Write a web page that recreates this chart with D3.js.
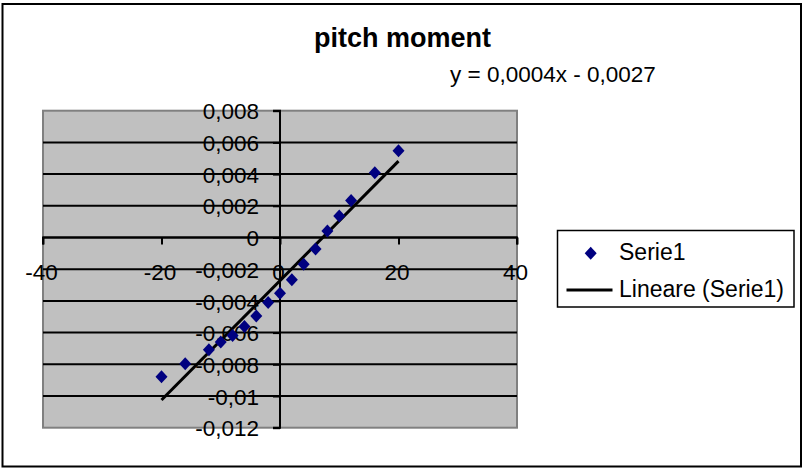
<!DOCTYPE html>
<html>
<head>
<meta charset="utf-8">
<script src="https://cdn.jsdelivr.net/npm/d3@7"></script>
<style>
  html, body { margin: 0; padding: 0; background: #fff; }
  svg { display: block; }
  text { font-family: "Liberation Sans", Arial, sans-serif; fill: #000; }
</style>
</head>
<body>
<svg id="chart" width="802" height="468"></svg>
<script>
// Angle of attack (deg) and pitching moment coefficient
const xValues = [-20, -16, -12, -10, -8, -6, -4, -2, 0, 2, 4, 6, 8, 10, 12, 16, 20];
const yValues = [-0.00879, -0.00796, -0.00708, -0.00660, -0.00619, -0.00561, -0.00495, -0.00410,
                 -0.00351, -0.00267, -0.00168, -0.00072, 0.00041, 0.00135, 0.00234, 0.00408, 0.00547];
const xTicks = [-40, -20, 0, 20, 40];
const yTicks = [0.008, 0.006, 0.004, 0.002, 0, -0.002, -0.004, -0.006, -0.008, -0.01, -0.012];
const seriesName = "Serie1";
const trendName = "Lineare (Serie1)";
const chartTitle = "pitch moment";

const svg = d3.select("#chart");
const W = 802, H = 468;

// Italian number formatting: comma decimal separator, plain hyphen minus
const it = d3.formatLocale({ decimal: ",", thousands: ".", grouping: [3], currency: ["€", ""], minus: "-" });
const fmtY = it.format(".3~f");
const fmtX = it.format("d");
const fmtCoef = it.format(".4f");

// Outer chart frame
svg.append("rect")
  .attr("x", 2.5).attr("y", 4).attr("width", W - 3.5).attr("height", H - 5.5)
  .attr("fill", "#fff").attr("stroke", "#000").attr("stroke-width", 2);

// Plot area
const plot = { left: 43, right: 517, top: 110.7, bottom: 427.7 };
const x = d3.scaleLinear().domain([-40, 40]).range([plot.left, plot.right]);
const y = d3.scaleLinear().domain([-0.012, 0.008]).range([plot.bottom, plot.top]);

svg.append("rect")
  .attr("x", plot.left).attr("y", plot.top)
  .attr("width", plot.right - plot.left).attr("height", plot.bottom - plot.top)
  .attr("fill", "#c0c0c0").attr("stroke", "#808080").attr("stroke-width", 2);

// Horizontal major gridlines
svg.append("g").selectAll("line")
  .data(yTicks.filter(v => v < 0.0079 && v > -0.0119))
  .join("line")
  .attr("x1", plot.left).attr("x2", plot.right)
  .attr("y1", d => y(d)).attr("y2", d => y(d))
  .attr("stroke", "#000").attr("stroke-width", 2);

// Y axis crossing at x = 0
const yAxis = d3.axisLeft(y).tickValues(yTicks).tickSize(7).tickPadding(14).tickFormat(fmtY);
const gy = svg.append("g").attr("transform", `translate(${x(0)},0)`).call(yAxis);
gy.attr("font-family", null).attr("font-size", null);
gy.select(".domain").attr("stroke", "#000").attr("stroke-width", 2).attr("d", `M-7,${plot.top}H0V${plot.bottom}H-7`);
gy.selectAll(".tick line").attr("stroke", "#000").attr("stroke-width", 2);
gy.selectAll(".tick text").attr("font-size", 22.5).attr("dy", "0.36em");

// X axis crossing at y = 0, labels placed low
const xAxis = d3.axisBottom(x).tickValues(xTicks).tickSize(7).tickPadding(20).tickFormat(fmtX);
const gx = svg.append("g").attr("transform", `translate(0,${y(0)})`).call(xAxis);
gx.attr("font-family", null).attr("font-size", null);
gx.select(".domain").attr("stroke", "#000").attr("stroke-width", 2).attr("d", `M${plot.left},7V0H${plot.right}V7`);
gx.selectAll(".tick line").attr("stroke", "#000").attr("stroke-width", 2);
gx.selectAll(".tick text").attr("font-size", 22.5).attr("dx", -2).attr("dy", "0.71em");

// Least-squares linear trendline
const n = xValues.length;
const mx = d3.mean(xValues), my = d3.mean(yValues);
let sxy = 0, sxx = 0;
for (let i = 0; i < n; i++) { sxy += (xValues[i] - mx) * (yValues[i] - my); sxx += (xValues[i] - mx) ** 2; }
const slope = sxy / sxx;
const intercept = my - slope * mx;
const xr = d3.extent(xValues);

svg.append("line")
  .attr("x1", x(xr[0])).attr("y1", y(slope * xr[0] + intercept))
  .attr("x2", x(xr[1])).attr("y2", y(slope * xr[1] + intercept))
  .attr("stroke", "#000").attr("stroke-width", 3);

// Data markers
const diamond = "M0,-6.5L6,0L0,6.5L-6,0Z";
svg.append("g").selectAll("path")
  .data(d3.zip(xValues, yValues))
  .join("path")
  .attr("d", diamond)
  .attr("transform", d => `translate(${x(d[0])},${y(d[1])})`)
  .attr("fill", "#000080");

// Title
svg.append("text")
  .attr("x", 402.5).attr("y", 46.5)
  .attr("text-anchor", "middle")
  .attr("font-size", 27).attr("font-weight", "bold")
  .text(chartTitle);

// Trendline equation
const sign = intercept < 0 ? "- " : "+ ";
svg.append("text")
  .attr("x", 450).attr("y", 81.5)
  .attr("font-size", 22.5)
  .text(`y = ${fmtCoef(slope)}x ${sign}${fmtCoef(Math.abs(intercept))}`);

// Legend
const lg = svg.append("g");
lg.append("rect")
  .attr("x", 557.5).attr("y", 230.5).attr("width", 236.5).attr("height", 76.5)
  .attr("fill", "#fff").attr("stroke", "#000").attr("stroke-width", 1.5);
lg.append("path").attr("d", diamond).attr("transform", "translate(590.7,253.3)").attr("fill", "#000080");
lg.append("text").attr("x", 619).attr("y", 260).attr("font-size", 23).text(seriesName);
lg.append("line").attr("x1", 566.5).attr("x2", 612.5).attr("y1", 290).attr("y2", 290)
  .attr("stroke", "#000").attr("stroke-width", 3);
lg.append("text").attr("x", 619).attr("y", 297).attr("font-size", 23).text(trendName);
</script>
</body>
</html>
